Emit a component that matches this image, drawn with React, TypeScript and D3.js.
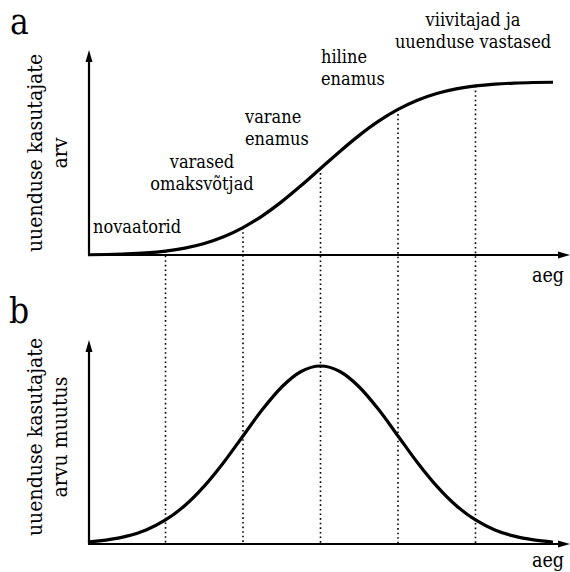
import React from "react";
import * as d3 from "d3";

// time in standard-deviation units
const timeSteps = [-3, -2.75, -2.5, -2.25, -2, -1.75, -1.5, -1.25, -1, -0.75, -0.5, -0.25, 0, 0.25, 0.5, 0.75, 1, 1.25, 1.5, 1.75, 2, 2.25, 2.5, 2.75, 3];
// cumulative share of adopters (%)
const adoptersCum = [0.13, 0.3, 0.62, 1.22, 2.28, 4.01, 6.68, 10.56, 15.87, 22.66, 30.85, 40.13, 50, 59.87, 69.15, 77.34, 84.13, 89.44, 93.32, 95.99, 97.72, 98.78, 99.38, 99.7, 99.87];
// rate of new adopters (relative, peak = 100)
const adoptersRate = [1.1, 2.3, 4.4, 7.9, 13.5, 21.6, 32.5, 45.8, 60.7, 75.5, 88.2, 96.9, 100, 96.9, 88.2, 75.5, 60.7, 45.8, 32.5, 21.6, 13.5, 7.9, 4.4, 2.3, 1.1];
// category boundaries
const boundaries = [-2, -1, 0, 1, 2];
const categoryLines = [["novaatorid"], ["varased", "omaksvõtjad"], ["varane", "enamus"], ["hiline", "enamus"], ["viivitajad ja", "uuenduse vastased"]];
const yLabelA = ["uuenduse kasutajate", "arv"];
const yLabelB = ["uuenduse kasutajate", "arvu muutus"];
const xLabel = "aeg";

const FONT = "'DejaVu Serif Condensed', 'DejaVu Serif', serif";

export default function App() {
  const W = 570, H = 572;
  const x = d3.scaleLinear().domain([-3, 3]).range([88, 553]);
  const yA = d3.scaleLinear().domain([0, 100]).range([255, 82]);
  const yB = d3.scaleLinear().domain([0, 100]).range([544, 366]);
  const axisX0 = 89;

  const lineA = d3.line<number>().x((_, i) => x(timeSteps[i])).y((d) => yA(d)).curve(d3.curveMonotoneX);
  const lineB = d3.line<number>().x((_, i) => x(timeSteps[i])).y((d) => yB(d)).curve(d3.curveMonotoneX);

  const catPos = [
    { x: 93, y: 233, anchor: "start" },
    { x: 202, y: 190, anchor: "middle" },
    { x: 245, y: 145, anchor: "start" },
    { x: 321, y: 85, anchor: "start" },
    { x: 473, y: 48, anchor: "middle" },
  ];

  const txt = { fontFamily: FONT, fontStretch: "condensed" } as React.CSSProperties;

  const axes = (y0: number, top: number) => (
    <g>
      <line x1={axisX0} y1={y0} x2={axisX0} y2={top + 8} stroke="#000" strokeWidth={2.2} />
      <path d={`M${axisX0},${top} L${axisX0 - 3.5},${top + 12} L${axisX0 + 3.5},${top + 12} Z`} fill="#000" />
      <line x1={axisX0 - 1} y1={y0} x2={W - 8} y2={y0} stroke="#000" strokeWidth={2.2} />
      <path d={`M${W},${y0} L${W - 12},${y0 - 3.5} L${W - 12},${y0 + 3.5} Z`} fill="#000" />
    </g>
  );

  const yLabel = (lines: string[], cy: number) => (
    <text transform={`translate(42,${cy}) rotate(-90)`} textAnchor="middle" style={txt} fontSize={21} fill="#000">
      {lines.map((l, i) => (
        <tspan key={i} x={0} dy={i === 0 ? 0 : 25}>{l}</tspan>
      ))}
    </text>
  );

  const cumAt = (t: number) => adoptersCum[timeSteps.indexOf(t)];

  return (
    <svg width={W} height={H} style={{ position: "absolute", left: 0, top: 0, background: "#fff" }}>
      <rect width={W} height={H} fill="#fff" />
      {boundaries.map((t) => (
        <line key={t} x1={x(t)} x2={x(t)} y1={yA(cumAt(t))} y2={yB(0)} stroke="#000" strokeWidth={1.6} strokeDasharray="1.6,3" />
      ))}
      {axes(255, 50)}
      {axes(544, 340)}
      <path d={lineA(adoptersCum) || ""} fill="none" stroke="#000" strokeWidth={3.2} />
      <path d={lineB(adoptersRate) || ""} fill="none" stroke="#000" strokeWidth={3.2} />

      <text x={10} y={34} style={txt} fontSize={35} fill="#000">a</text>
      <text x={9} y={323} style={txt} fontSize={35} fill="#000">b</text>

      {yLabel(yLabelA, 153)}
      {yLabel(yLabelB, 437)}

      <text x={564} y={282} textAnchor="end" style={txt} fontSize={19.5} fill="#000">{xLabel}</text>
      <text x={564} y={567} textAnchor="end" style={txt} fontSize={19.5} fill="#000">{xLabel}</text>

      {categoryLines.map((lines, i) => (
        <text key={i} x={catPos[i].x} y={catPos[i].y - (lines.length - 1) * 22} textAnchor={catPos[i].anchor as any} style={txt} fontSize={18} fill="#000">
          {lines.map((l, j) => (
            <tspan key={j} x={catPos[i].x} dy={j === 0 ? 0 : 22}>{l}</tspan>
          ))}
        </text>
      ))}
    </svg>
  );
}
